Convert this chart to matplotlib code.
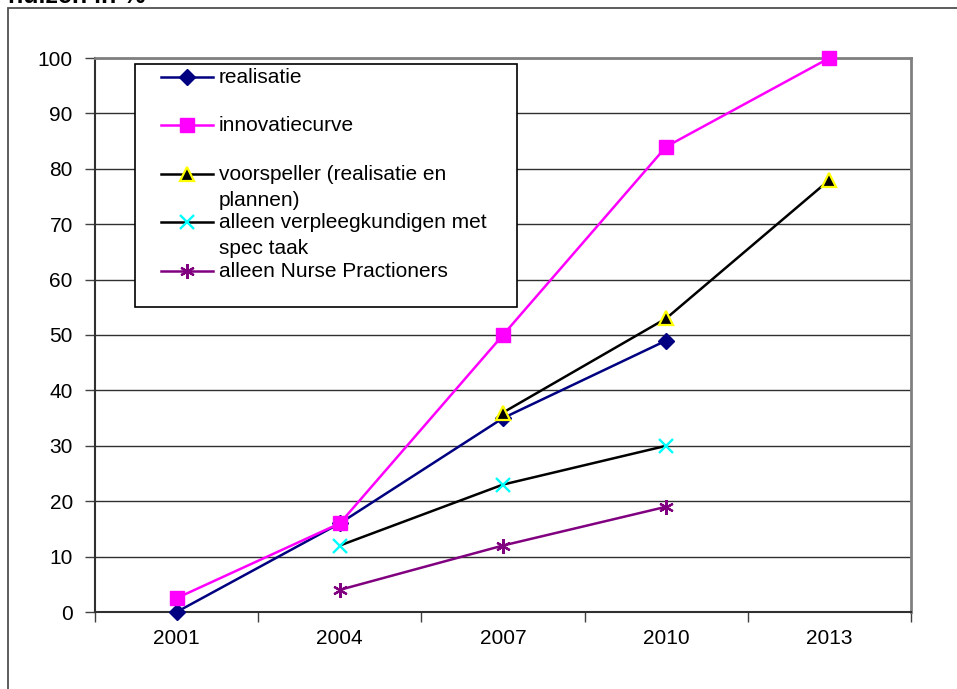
import numpy as np
import matplotlib
matplotlib.use("Agg")
import matplotlib.pyplot as plt
from matplotlib.patches import Rectangle
from matplotlib.lines import Line2D

plt.rcParams['font.family'] = ['Liberation Sans', 'DejaVu Sans']

years = ["2001", "2004", "2007", "2010", "2013"]
nan = np.nan
realisatie = [0, 16, 35, 49, nan]
innovatiecurve = [2.5, 16, 50, 84, 100]
voorspeller = [nan, nan, 36, 53, 78]
verpleegkundigen = [nan, 12, 23, 30, nan]
nurse_pract = [nan, 4, 12, 19, nan]

labels = ["realisatie",
          "innovatiecurve",
          "voorspeller (realisatie en\nplannen)",
          "alleen verpleegkundigen met\nspec taak",
          "alleen Nurse Practioners"]

styles = [
    dict(color="#000080", marker="D", ms=8, mfc="#000080", mec="#000080", mew=1),
    dict(color="#FF00FF", marker="s", ms=10, mfc="#FF00FF", mec="#FF00FF", mew=1),
    dict(color="black", marker="^", ms=9.5, mfc="black", mec="#FFFF00", mew=1.6),
    dict(color="black", marker="x", ms=10, mfc="none", mec="#00FFFF", mew=1.7),
    dict(color="#800080", marker=(6, 2, 0), ms=10.5, mfc="none", mec="#800080", mew=1.6),
]
series = [realisatie, innovatiecurve, voorspeller, verpleegkundigen, nurse_pract]

FS = 15
W, H = 957, 689
fig = plt.figure(figsize=(W / 100, H / 100), dpi=100)
L, R, T, B = 95, 911, 58, 612
ax = fig.add_axes([L / W, 1 - B / H, (R - L) / W, (B - T) / H])

x = np.arange(len(years))
for vals, st in zip(series, styles):
    ax.plot(x, vals, lw=1.8, clip_on=False, zorder=3, **st)

ax.set_xlim(-0.5, len(years) - 0.5)
ax.set_ylim(0, 100)
ax.set_yticks(np.arange(0, 101, 10))
ax.set_xticks(np.arange(-0.5, len(years)), labels=[])
ax.set_xticks(x, labels=years, minor=True)
ax.tick_params(axis="x", which="major", length=7, width=1, color="#404040")
ax.tick_params(axis="x", which="minor", length=0, pad=12, labelsize=FS)
ax.tick_params(axis="y", length=7, width=1, color="#404040", pad=9, labelsize=FS)

ax.yaxis.grid(True, color="#303030", lw=1)
ax.set_axisbelow(True)
for s in ("left", "bottom"):
    ax.spines[s].set_color("#303030")
    ax.spines[s].set_linewidth(1.5)
for s in ("top", "right"):
    ax.spines[s].set_color("#808080")
    ax.spines[s].set_linewidth(2)


# legend drawn by hand so handles line up with the first text line
def to_ax(px, py):
    return (px - L) / (R - L), (B - py) / (B - T)


x0, y0 = to_ax(135, 307)
x1, y1 = to_ax(517, 64)
ax.add_patch(Rectangle((x0, y0), x1 - x0, y1 - y0, transform=ax.transAxes,
                       facecolor="white", edgecolor="black", lw=1.2,
                       zorder=5, clip_on=False))
rows_y = [77, 125, 174, 222, 271]
for lab, st, py in zip(labels, styles, rows_y):
    hx0, hy = to_ax(161, py)
    hx1, _ = to_ax(213, py)
    mx, _ = to_ax(187, py)
    ax.add_line(Line2D([hx0, hx1], [hy, hy], transform=ax.transAxes,
                       color=st["color"], lw=1.8, zorder=6, clip_on=False))
    ax.add_line(Line2D([mx], [hy], transform=ax.transAxes, linestyle="none",
                       marker=st["marker"], ms=st["ms"], mfc=st["mfc"],
                       mec=st["mec"], mew=st["mew"], zorder=7, clip_on=False))
    for i, line in enumerate(lab.split("\n")):
        tx, ty = to_ax(219, py + 6 + i * 25.5)
        ax.text(tx, ty, line, transform=ax.transAxes, fontsize=FS,
                va="baseline", ha="left", zorder=7)

# chart area frame and the clipped heading above it
fig.add_artist(Rectangle((8 / W, -0.1), 1.2, 1.1 - 8 / H, transform=fig.transFigure,
                         fill=False, edgecolor="#505050", lw=1.3))
fig.text(8 / W, 1 - 3 / H, "huizen in %", fontsize=18, fontweight="bold",
         ha="left", va="baseline")

fig.savefig("out.png", dpi=100)
